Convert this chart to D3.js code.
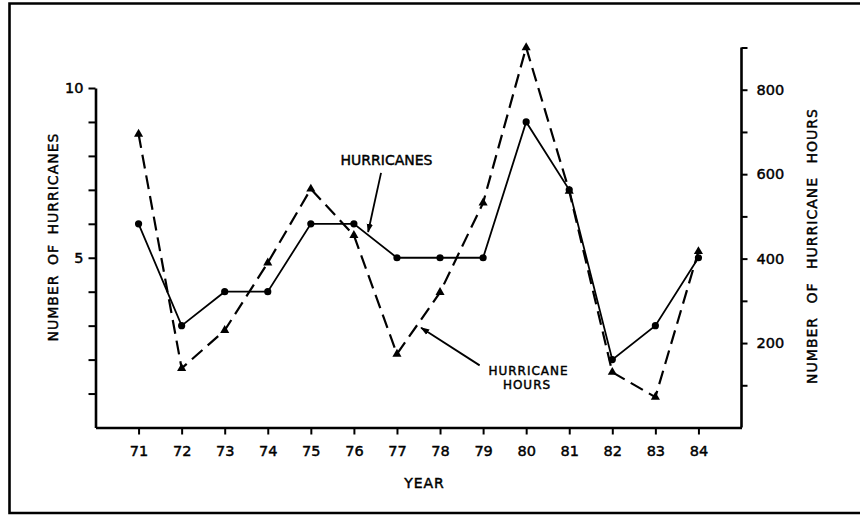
<!DOCTYPE html>
<html>
<head>
<meta charset="utf-8">
<script src="https://cdn.jsdelivr.net/npm/d3@7"></script>
<style>
  html, body { margin: 0; padding: 0; background: #fff; }
  svg { display: block; }
  text { font-family: "DejaVu Sans", sans-serif; fill: #000; stroke: #000; stroke-width: 0.45px; }
</style>
</head>
<body>
<svg id="chart" width="860" height="515"></svg>
<script>
// ---- data ----
const years = [71, 72, 73, 74, 75, 76, 77, 78, 79, 80, 81, 82, 83, 84];
const hurricanes = [6, 3, 4, 4, 6, 6, 5, 5, 5, 9, 7, 2, 3, 5];
const hurricaneHours = [695, 140, 230, 390, 565, 455, 174, 320, 532, 900, 560, 131, 72, 417];
const leftTicks = [1, 2, 3, 4, 5, 6, 7, 8, 9, 10];
const leftLabels = [5, 10];
const rightTicks = [100, 200, 300, 400, 500, 600, 700, 800, 900];
const rightLabels = [200, 400, 600, 800];
const xTicks = years;

const svg = d3.select("#chart");

// frame
svg.append("path")
  .attr("d", "M 870 3.5 H 9.5 V 513 H 870")
  .attr("fill", "none").attr("stroke", "#000").attr("stroke-width", 2.6);

const x = d3.scaleLinear().domain([70, 85]).range([95.5, 741.5]);
const yL = d3.scaleLinear().domain([0, 10]).range([427.5, 88]);
const yR = d3.scaleLinear().domain([0, 900]).range([427.5, 47.5]);

function styleAxis(g, sw) {
  g.select(".domain").attr("stroke", "#000").attr("stroke-width", 2.6);
  g.selectAll(".tick line").attr("stroke", "#000").attr("stroke-width", sw);
  g.selectAll(".tick text").attr("font-family", "DejaVu Sans, sans-serif")
    .attr("font-size", 14.5).attr("fill", "#000");
}

// left axis
const gL = svg.append("g").attr("transform", `translate(${x(70)},0)`)
  .call(d3.axisLeft(yL).tickValues(leftTicks).tickSize(7).tickSizeOuter(0)
    .tickPadding(5)
    .tickFormat(d => leftLabels.includes(d) ? String(d) : ""));
styleAxis(gL, 2);

// right axis
const gR = svg.append("g").attr("transform", `translate(${x(85)},0)`)
  .call(d3.axisRight(yR).tickValues(rightTicks).tickSize(6).tickSizeOuter(0)
    .tickPadding(9)
    .tickFormat(d => rightLabels.includes(d) ? String(d) : ""));
styleAxis(gR, 2);
gR.select(".domain").attr("d", `M0,${yR(900)}V${yR(0)}`);

// bottom axis
const gX = svg.append("g").attr("transform", `translate(0,${yL(0)})`)
  .call(d3.axisBottom(x).tickValues(xTicks).tickSize(7).tickSizeOuter(0)
    .tickPadding(11).tickFormat(d => String(d)));
styleAxis(gX, 2);

// axis titles
svg.append("text")
  .attr("transform", `translate(53,237) rotate(-90)`)
  .attr("text-anchor", "middle").attr("dominant-baseline", "central")
  .attr("font-size", 14).attr("letter-spacing", 1).attr("word-spacing", 4)
  .text("NUMBER OF HURRICANES");

svg.append("text")
  .attr("transform", `translate(812,246) rotate(-90)`)
  .attr("text-anchor", "middle").attr("dominant-baseline", "central")
  .attr("font-size", 14).attr("letter-spacing", 1).attr("word-spacing", 8)
  .text("NUMBER OF HURRICANE HOURS");

svg.append("text")
  .attr("x", 424.5).attr("y", 483)
  .attr("text-anchor", "middle").attr("dominant-baseline", "central")
  .attr("font-size", 14).attr("letter-spacing", 1)
  .text("YEAR");

// hurricane hours: dashed line with triangles
const hoursData = years.map((y, i) => ({ year: y, v: hurricaneHours[i] }));
const hurrData = years.map((y, i) => ({ year: y, v: hurricanes[i] }));

svg.append("path")
  .datum(hoursData)
  .attr("fill", "none").attr("stroke", "#000").attr("stroke-width", 2.2)
  .attr("stroke-dasharray", "14,7")
  .attr("d", d3.line().x(d => x(d.year)).y(d => yR(d.v)));

svg.append("g").selectAll("path")
  .data(hoursData).join("path")
  .attr("transform", d => `translate(${x(d.year)},${yR(d.v)})`)
  .attr("d", d3.symbol().type(d3.symbolTriangle).size(36))
  .attr("fill", "#000");

// hurricanes: solid line with dots
svg.append("path")
  .datum(hurrData)
  .attr("fill", "none").attr("stroke", "#000").attr("stroke-width", 1.8)
  .attr("d", d3.line().x(d => x(d.year)).y(d => yL(d.v)));

svg.append("g").selectAll("circle")
  .data(hurrData).join("circle")
  .attr("cx", d => x(d.year)).attr("cy", d => yL(d.v))
  .attr("r", 3.6).attr("fill", "#000");

// annotations
const defs = svg.append("defs");
defs.append("marker")
  .attr("id", "arrow").attr("viewBox", "0 0 10 10")
  .attr("refX", 9).attr("refY", 5)
  .attr("markerWidth", 9).attr("markerHeight", 9)
  .attr("markerUnits", "userSpaceOnUse")
  .attr("orient", "auto")
  .append("path").attr("d", "M0,1.5 L10,5 L0,8.5 Z").attr("fill", "#000");

svg.append("text")
  .attr("x", 386.5).attr("y", 160)
  .attr("text-anchor", "middle").attr("dominant-baseline", "central")
  .attr("font-size", 14).text("HURRICANES");
svg.append("line")
  .attr("x1", x(76.63)).attr("y1", yL(7.5))
  .attr("x2", x(76.33)).attr("y2", yL(5.76))
  .attr("stroke", "#000").attr("stroke-width", 1.8)
  .attr("marker-end", "url(#arrow)");

svg.append("text")
  .attr("x", 528.5).attr("y", 371)
  .attr("text-anchor", "middle").attr("dominant-baseline", "central")
  .attr("font-size", 12).attr("letter-spacing", 1).text("HURRICANE");
svg.append("text")
  .attr("x", 527).attr("y", 385)
  .attr("text-anchor", "middle").attr("dominant-baseline", "central")
  .attr("font-size", 12).attr("letter-spacing", 1).text("HOURS");
svg.append("line")
  .attr("x1", x(78.92)).attr("y1", yL(1.83))
  .attr("x2", x(77.56)).attr("y2", yL(2.94))
  .attr("stroke", "#000").attr("stroke-width", 1.8)
  .attr("marker-end", "url(#arrow)");
</script>
</body>
</html>
